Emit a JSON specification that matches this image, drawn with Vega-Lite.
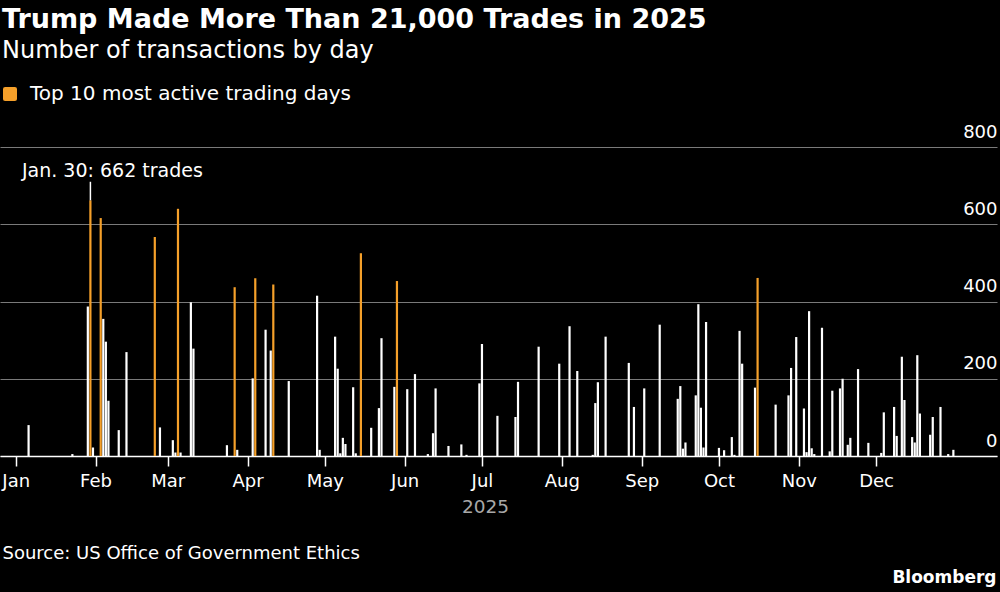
{
  "$schema": "https://vega.github.io/schema/vega-lite/v6.json",
  "width": 997,
  "height": 309,
  "autosize": {"type": "none"},
  "padding": {"left": 0, "top": 147, "right": 3, "bottom": 136},
  "background": "#000000",
  "title": {
    "text": "Trump Made More Than 21,000 Trades in 2025",
    "subtitle": "Number of transactions by day",
    "anchor": "start",
    "frame": "group",
    "offset": 20,
    "dx": 2,
    "color": "#ffffff",
    "fontSize": 27,
    "fontWeight": "bold",
    "subtitleColor": "#ffffff",
    "subtitleFontSize": 24,
    "subtitlePadding": 5
  },
  "datasets": {
    "trades": [
      {"date": "2025-01-06", "trades": 80, "group": "Other"},
      {"date": "2025-01-23", "trades": 5, "group": "Other"},
      {"date": "2025-01-29", "trades": 387, "group": "Other"},
      {"date": "2025-01-30", "trades": 662, "group": "Top 10 most active trading days"},
      {"date": "2025-01-31", "trades": 22, "group": "Other"},
      {"date": "2025-02-03", "trades": 616, "group": "Top 10 most active trading days"},
      {"date": "2025-02-04", "trades": 355, "group": "Other"},
      {"date": "2025-02-05", "trades": 296, "group": "Other"},
      {"date": "2025-02-06", "trades": 143, "group": "Other"},
      {"date": "2025-02-10", "trades": 67, "group": "Other"},
      {"date": "2025-02-13", "trades": 269, "group": "Other"},
      {"date": "2025-02-24", "trades": 567, "group": "Top 10 most active trading days"},
      {"date": "2025-02-26", "trades": 74, "group": "Other"},
      {"date": "2025-03-03", "trades": 41, "group": "Other"},
      {"date": "2025-03-04", "trades": 9, "group": "Other"},
      {"date": "2025-03-05", "trades": 640, "group": "Top 10 most active trading days"},
      {"date": "2025-03-06", "trades": 9, "group": "Other"},
      {"date": "2025-03-10", "trades": 398, "group": "Other"},
      {"date": "2025-03-11", "trades": 278, "group": "Other"},
      {"date": "2025-03-24", "trades": 28, "group": "Other"},
      {"date": "2025-03-27", "trades": 437, "group": "Top 10 most active trading days"},
      {"date": "2025-03-28", "trades": 16, "group": "Other"},
      {"date": "2025-04-03", "trades": 201, "group": "Other"},
      {"date": "2025-04-04", "trades": 460, "group": "Top 10 most active trading days"},
      {"date": "2025-04-08", "trades": 327, "group": "Other"},
      {"date": "2025-04-10", "trades": 273, "group": "Other"},
      {"date": "2025-04-11", "trades": 444, "group": "Top 10 most active trading days"},
      {"date": "2025-04-17", "trades": 194, "group": "Other"},
      {"date": "2025-04-28", "trades": 415, "group": "Other"},
      {"date": "2025-04-29", "trades": 16, "group": "Other"},
      {"date": "2025-05-05", "trades": 309, "group": "Other"},
      {"date": "2025-05-06", "trades": 226, "group": "Other"},
      {"date": "2025-05-07", "trades": 7, "group": "Other"},
      {"date": "2025-05-08", "trades": 47, "group": "Other"},
      {"date": "2025-05-09", "trades": 31, "group": "Other"},
      {"date": "2025-05-12", "trades": 178, "group": "Other"},
      {"date": "2025-05-13", "trades": 7, "group": "Other"},
      {"date": "2025-05-15", "trades": 525, "group": "Top 10 most active trading days"},
      {"date": "2025-05-19", "trades": 73, "group": "Other"},
      {"date": "2025-05-22", "trades": 124, "group": "Other"},
      {"date": "2025-05-23", "trades": 305, "group": "Other"},
      {"date": "2025-05-28", "trades": 179, "group": "Other"},
      {"date": "2025-05-29", "trades": 453, "group": "Top 10 most active trading days"},
      {"date": "2025-06-02", "trades": 173, "group": "Other"},
      {"date": "2025-06-05", "trades": 212, "group": "Other"},
      {"date": "2025-06-10", "trades": 5, "group": "Other"},
      {"date": "2025-06-12", "trades": 59, "group": "Other"},
      {"date": "2025-06-13", "trades": 175, "group": "Other"},
      {"date": "2025-06-18", "trades": 26, "group": "Other"},
      {"date": "2025-06-23", "trades": 30, "group": "Other"},
      {"date": "2025-06-25", "trades": 3, "group": "Other"},
      {"date": "2025-06-30", "trades": 188, "group": "Other"},
      {"date": "2025-07-01", "trades": 290, "group": "Other"},
      {"date": "2025-07-07", "trades": 104, "group": "Other"},
      {"date": "2025-07-14", "trades": 101, "group": "Other"},
      {"date": "2025-07-15", "trades": 192, "group": "Other"},
      {"date": "2025-07-23", "trades": 283, "group": "Other"},
      {"date": "2025-07-31", "trades": 239, "group": "Other"},
      {"date": "2025-08-04", "trades": 336, "group": "Other"},
      {"date": "2025-08-07", "trades": 220, "group": "Other"},
      {"date": "2025-08-13", "trades": 3, "group": "Other"},
      {"date": "2025-08-14", "trades": 137, "group": "Other"},
      {"date": "2025-08-15", "trades": 191, "group": "Other"},
      {"date": "2025-08-18", "trades": 309, "group": "Other"},
      {"date": "2025-08-27", "trades": 241, "group": "Other"},
      {"date": "2025-08-29", "trades": 127, "group": "Other"},
      {"date": "2025-09-02", "trades": 175, "group": "Other"},
      {"date": "2025-09-08", "trades": 340, "group": "Other"},
      {"date": "2025-09-15", "trades": 148, "group": "Other"},
      {"date": "2025-09-16", "trades": 181, "group": "Other"},
      {"date": "2025-09-17", "trades": 19, "group": "Other"},
      {"date": "2025-09-18", "trades": 35, "group": "Other"},
      {"date": "2025-09-22", "trades": 157, "group": "Other"},
      {"date": "2025-09-23", "trades": 393, "group": "Other"},
      {"date": "2025-09-24", "trades": 125, "group": "Other"},
      {"date": "2025-09-25", "trades": 22, "group": "Other"},
      {"date": "2025-09-26", "trades": 347, "group": "Other"},
      {"date": "2025-10-01", "trades": 21, "group": "Other"},
      {"date": "2025-10-03", "trades": 15, "group": "Other"},
      {"date": "2025-10-06", "trades": 49, "group": "Other"},
      {"date": "2025-10-07", "trades": 3, "group": "Other"},
      {"date": "2025-10-09", "trades": 324, "group": "Other"},
      {"date": "2025-10-10", "trades": 239, "group": "Other"},
      {"date": "2025-10-15", "trades": 177, "group": "Other"},
      {"date": "2025-10-16", "trades": 461, "group": "Top 10 most active trading days"},
      {"date": "2025-10-23", "trades": 133, "group": "Other"},
      {"date": "2025-10-28", "trades": 157, "group": "Other"},
      {"date": "2025-10-29", "trades": 228, "group": "Other"},
      {"date": "2025-10-31", "trades": 308, "group": "Other"},
      {"date": "2025-11-03", "trades": 123, "group": "Other"},
      {"date": "2025-11-04", "trades": 10, "group": "Other"},
      {"date": "2025-11-05", "trades": 375, "group": "Other"},
      {"date": "2025-11-06", "trades": 20, "group": "Other"},
      {"date": "2025-11-07", "trades": 5, "group": "Other"},
      {"date": "2025-11-10", "trades": 332, "group": "Other"},
      {"date": "2025-11-13", "trades": 12, "group": "Other"},
      {"date": "2025-11-14", "trades": 169, "group": "Other"},
      {"date": "2025-11-17", "trades": 175, "group": "Other"},
      {"date": "2025-11-18", "trades": 200, "group": "Other"},
      {"date": "2025-11-20", "trades": 29, "group": "Other"},
      {"date": "2025-11-21", "trades": 47, "group": "Other"},
      {"date": "2025-11-24", "trades": 225, "group": "Other"},
      {"date": "2025-11-28", "trades": 34, "group": "Other"},
      {"date": "2025-12-03", "trades": 8, "group": "Other"},
      {"date": "2025-12-04", "trades": 113, "group": "Other"},
      {"date": "2025-12-08", "trades": 127, "group": "Other"},
      {"date": "2025-12-09", "trades": 52, "group": "Other"},
      {"date": "2025-12-11", "trades": 257, "group": "Other"},
      {"date": "2025-12-12", "trades": 145, "group": "Other"},
      {"date": "2025-12-15", "trades": 49, "group": "Other"},
      {"date": "2025-12-16", "trades": 35, "group": "Other"},
      {"date": "2025-12-17", "trades": 261, "group": "Other"},
      {"date": "2025-12-18", "trades": 110, "group": "Other"},
      {"date": "2025-12-22", "trades": 55, "group": "Other"},
      {"date": "2025-12-23", "trades": 101, "group": "Other"},
      {"date": "2025-12-26", "trades": 127, "group": "Other"},
      {"date": "2025-12-29", "trades": 5, "group": "Other"},
      {"date": "2025-12-31", "trades": 16, "group": "Other"}
    ],
    "note": [
      {"date": "2025-01-30", "trades": 662, "leaderTop": 710, "label": "Jan. 30: 662 trades"}
    ]
  },
  "layer": [
    {
      "data": {"name": "trades"},
      "mark": {"type": "bar", "width": 2.2},
      "encoding": {
        "x": {
          "field": "date",
          "type": "temporal",
          "scale": {
            "type": "utc",
            "nice": false,
            "padding": 0,
            "domain": [
              {"year": 2024, "month": 12, "date": 25, "hours": 21, "minutes": 43, "utc": true},
              {"year": 2026, "month": 1, "date": 16, "hours": 22, "minutes": 33, "utc": true}
            ]
          },
          "axis": {
            "orient": "bottom",
            "values": [
              {"year": 2025, "month": 1, "date": 1, "utc": true},
              {"year": 2025, "month": 2, "date": 1, "utc": true},
              {"year": 2025, "month": 3, "date": 1, "utc": true},
              {"year": 2025, "month": 4, "date": 1, "utc": true},
              {"year": 2025, "month": 5, "date": 1, "utc": true},
              {"year": 2025, "month": 6, "date": 1, "utc": true},
              {"year": 2025, "month": 7, "date": 1, "utc": true},
              {"year": 2025, "month": 8, "date": 1, "utc": true},
              {"year": 2025, "month": 9, "date": 1, "utc": true},
              {"year": 2025, "month": 10, "date": 1, "utc": true},
              {"year": 2025, "month": 11, "date": 1, "utc": true},
              {"year": 2025, "month": 12, "date": 1, "utc": true}
            ],
            "labelExpr": "utcFormat(datum.value, '%b')",
            "grid": false,
            "domainColor": "#ffffff",
            "domainWidth": 1.5,
            "tickColor": "#ffffff",
            "tickWidth": 1.5,
            "tickSize": 10,
            "labelColor": "#ffffff",
            "labelFontSize": 18,
            "labelPadding": 6,
            "labelFlush": false,
            "labelOverlap": false,
            "title": "2025",
            "titleColor": "#a8a8a8",
            "titleFontSize": 18.5,
            "titleFontWeight": "normal",
            "titleX": 485,
            "titleY": 56,
            "titleAlign": "center",
            "titleBaseline": "alphabetic"
          }
        },
        "y": {
          "field": "trades",
          "type": "quantitative",
          "scale": {"domain": [0, 800], "nice": false},
          "axis": {
            "orient": "right",
            "values": [0, 200, 400, 600, 800],
            "grid": true,
            "gridColor": "#7a7a7a",
            "gridWidth": 1.2,
            "domain": false,
            "ticks": false,
            "tickSize": 0,
            "labelAlign": "right",
            "labelBaseline": "alphabetic",
            "labelPadding": 0,
            "labelOffset": -10,
            "labelColor": "#ffffff",
            "labelFontSize": 18,
            "title": null
          }
        },
        "color": {
          "field": "group",
          "type": "nominal",
          "scale": {
            "domain": ["Top 10 most active trading days", "Other"],
            "range": ["#f5a02a", "#ffffff"]
          },
          "legend": {
            "orient": "none",
            "legendX": 0,
            "legendY": -63,
            "values": ["Top 10 most active trading days"],
            "title": null,
            "padding": 0,
            "symbolType": "M -0.7 -1 H 0.7 Q 1 -1 1 -0.7 V 0.7 Q 1 1 0.7 1 H -0.7 Q -1 1 -1 0.7 V -0.7 Q -1 -1 -0.7 -1 Z",
            "symbolSize": 196,
            "symbolStrokeWidth": 0,
            "symbolOpacity": 1,
            "labelColor": "#ffffff",
            "labelFontSize": 20,
            "labelOffset": 10,
            "labelLimit": 0
          }
        }
      }
    },
    {
      "data": {"name": "note"},
      "mark": {"type": "rule", "color": "#ffffff", "strokeWidth": 1.5},
      "encoding": {
        "x": {
          "field": "date",
          "type": "temporal",
          "scale": {
            "type": "utc",
            "nice": false,
            "padding": 0,
            "domain": [
              {"year": 2024, "month": 12, "date": 25, "hours": 21, "minutes": 43, "utc": true},
              {"year": 2026, "month": 1, "date": 16, "hours": 22, "minutes": 33, "utc": true}
            ]
          },
          "axis": {
            "orient": "bottom",
            "domain": false,
            "ticks": false,
            "labels": false,
            "grid": false,
            "title": "Source: US Office of Government Ethics",
            "titleColor": "#ffffff",
            "titleFontSize": 18,
            "titleFontWeight": "normal",
            "titleX": 2,
            "titleY": 102,
            "titleAlign": "left",
            "titleBaseline": "alphabetic"
          }
        },
        "y": {"field": "trades", "type": "quantitative", "scale": {"domain": [0, 800], "nice": false}, "axis": null},
        "y2": {"field": "leaderTop"}
      }
    },
    {
      "data": {"name": "note"},
      "mark": {
        "type": "text",
        "align": "left",
        "baseline": "alphabetic",
        "dx": -68.4,
        "dy": -23.6,
        "fontSize": 19,
        "color": "#ffffff"
      },
      "encoding": {
        "x": {
          "field": "date",
          "type": "temporal",
          "scale": {
            "type": "utc",
            "nice": false,
            "padding": 0,
            "domain": [
              {"year": 2024, "month": 12, "date": 25, "hours": 21, "minutes": 43, "utc": true},
              {"year": 2026, "month": 1, "date": 16, "hours": 22, "minutes": 33, "utc": true}
            ]
          },
          "axis": {
            "orient": "bottom",
            "domain": false,
            "ticks": false,
            "labels": false,
            "grid": false,
            "title": "Bloomberg",
            "titleColor": "#ffffff",
            "titleFontSize": 17,
            "titleFontWeight": "bold",
            "titleX": 996,
            "titleY": 126,
            "titleAlign": "right",
            "titleBaseline": "alphabetic"
          }
        },
        "y": {"field": "trades", "type": "quantitative", "scale": {"domain": [0, 800], "nice": false}, "axis": null},
        "text": {"field": "label"}
      }
    }
  ],
  "resolve": {"axis": {"x": "independent", "y": "independent"}},
  "config": {
    "font": "DejaVu Sans",
    "view": {"stroke": null}
  }
}
